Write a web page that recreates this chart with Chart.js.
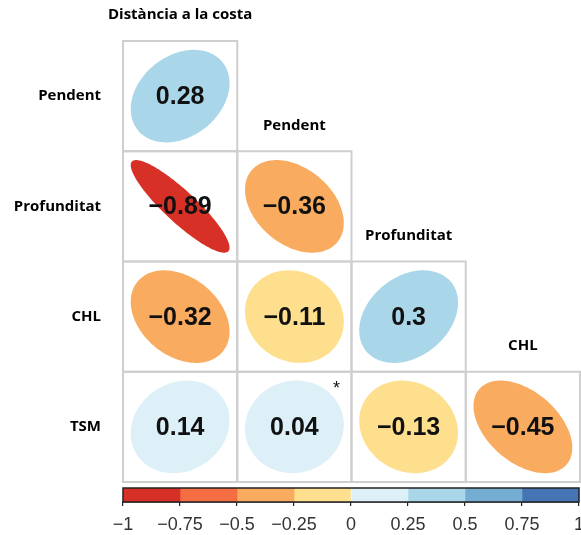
<!DOCTYPE html>
<html>
<head>
<meta charset="utf-8">
<script src="https://cdn.jsdelivr.net/npm/chart.js@4/dist/chart.umd.min.js"></script>
<style>
  html, body { margin: 0; padding: 0; background: #fff; overflow: hidden; width: 581px; height: 535px; }
  #matrixBox { position: absolute; left: 0; top: 0; }
  #barBox { position: absolute; left: 0; top: 482px; }
</style>
</head>
<body>
<div id="matrixBox"><canvas id="matrix" width="581" height="490"></canvas></div>
<div id="barBox"><canvas id="colorbar" width="620" height="53"></canvas></div>
<script>
// Variables compared in the lower-triangular correlation matrix
const columns = ['Distància a la costa', 'Pendent', 'Profunditat', 'CHL'];
const rows = ['Pendent', 'Profunditat', 'CHL', 'TSM'];

// Correlation coefficients, one array per row (columns left to right)
const corrPendent = [0.28];
const corrProfunditat = [-0.89, -0.36];
const corrCHL = [-0.32, -0.11, 0.3];
const corrTSM = [0.14, 0.04, -0.13, -0.45];

// Pairs flagged with an asterisk
const flagged = [{ row: 'TSM', col: 'Pendent' }];

// Colour scale (diverging, 8 classes) and its tick labels
const colorBreaks = [-1, -0.75, -0.5, -0.25, 0, 0.25, 0.5, 0.75, 1];
const palette = ['#D73027', '#F46D43', '#F9AC5F', '#FDDF8E', '#DDF0F7', '#A9D6E8', '#74ADD1', '#4575B4'];
const colorTicks = [-1, -0.75, -0.5, -0.25, 0, 0.25, 0.5, 0.75, 1];

const corrRows = [corrPendent, corrProfunditat, corrCHL, corrTSM];

function fmt(v) {
  return String(v).replace('-', '\u2212');
}
function colorFor(v) {
  for (let i = 0; i < palette.length; i++) {
    if (v <= colorBreaks[i + 1]) return palette[i];
  }
  return palette[palette.length - 1];
}

// One scatter point per matrix cell: x = column index, y = row index
const cells = [];
corrRows.forEach((vals, r) => {
  vals.forEach((v, c) => cells.push({ x: c, y: r, v: v }));
});

const labelFont = "bold 15px 'Open Sans', 'DejaVu Sans', sans-serif";
const numberFont = "bold 25px 'Liberation Sans', Arial, sans-serif";

// Draws cell frames, correlation ellipses, values and column headers
const corrPlot = {
  id: 'corrPlot',
  afterDatasetsDraw(chart) {
    const ctx = chart.ctx;
    const xs = chart.scales.x, ys = chart.scales.y;
    const cw = Math.abs(xs.getPixelForValue(1) - xs.getPixelForValue(0));
    const ch = Math.abs(ys.getPixelForValue(1) - ys.getPixelForValue(0));
    const pts = chart.getDatasetMeta(0).data;
    ctx.save();

    // cell frames
    ctx.strokeStyle = '#CFCFCF';
    ctx.lineWidth = 2;
    cells.forEach((d, i) => {
      const p = pts[i];
      ctx.strokeRect(p.x - cw / 2, p.y - ch / 2, cw, ch);
    });

    // ellipses
    cells.forEach((d, i) => {
      const p = pts[i];
      const a = Math.acos(d.v);
      const rx = 0.5 * 0.865 * cw, ry = 0.5 * 0.84 * ch;
      ctx.beginPath();
      const n = 120;
      for (let k = 0; k <= n; k++) {
        const t = (k / n) * Math.PI * 2;
        const px = p.x + Math.cos(t + a / 2) * rx;
        const py = p.y - Math.cos(t - a / 2) * ry;
        if (k === 0) ctx.moveTo(px, py); else ctx.lineTo(px, py);
      }
      ctx.closePath();
      ctx.fillStyle = colorFor(d.v);
      ctx.fill();
    });

    // values
    ctx.fillStyle = '#111';
    ctx.font = numberFont;
    ctx.textAlign = 'center';
    ctx.textBaseline = 'middle';
    cells.forEach((d, i) => {
      const p = pts[i];
      ctx.fillText(fmt(d.v), p.x, p.y + 1);
    });

    // asterisks
    ctx.font = "18px 'Liberation Sans', Arial, sans-serif";
    flagged.forEach(f => {
      const c = columns.indexOf(f.col), r = rows.indexOf(f.row);
      const x = xs.getPixelForValue(c) + cw / 2 - 15;
      const y = ys.getPixelForValue(r) - ch / 2 + 17;
      ctx.fillText('*', x, y);
    });

    // column headers above the diagonal cells
    ctx.font = labelFont;
    ctx.fillStyle = '#000';
    ctx.textBaseline = 'middle';
    columns.forEach((name, c) => {
      const x = xs.getPixelForValue(c);
      const y = ys.getPixelForValue(c) - ch / 2 - 26;
      ctx.fillText(name, x, y);
    });
    ctx.restore();
  }
};

new Chart(document.getElementById('matrix'), {
  type: 'scatter',
  data: { datasets: [{ data: cells, pointRadius: 0, pointHoverRadius: 0 }] },
  options: {
    responsive: false,
    animation: false,
    devicePixelRatio: 1,
    events: [],
    layout: { padding: { top: 41, right: 1, bottom: 8, left: 0 } },
    plugins: { legend: { display: false }, tooltip: { enabled: false } },
    scales: {
      x: { type: 'linear', min: -0.5, max: 3.5, display: false },
      y: {
        type: 'linear', min: -0.5, max: 3.5, reverse: true,
        afterBuildTicks: s => { s.ticks = rows.map((_, i) => ({ value: i })); },
        afterFit: s => { s.width = 123; s.paddingTop = 0; s.paddingBottom = 0; },
        grid: { display: false, drawTicks: false },
        border: { display: false },
        ticks: {
          padding: 22,
          color: '#000',
          font: { family: "'Open Sans', 'DejaVu Sans', sans-serif", size: 15, weight: 'bold' },
          callback: v => rows[v]
        }
      }
    }
  },
  plugins: [corrPlot]
});

// Frame around the colour key
const keyFrame = {
  id: 'keyFrame',
  afterDatasetsDraw(chart) {
    const a = chart.chartArea, ctx = chart.ctx;
    ctx.save();
    ctx.strokeStyle = '#222';
    ctx.lineWidth = 1.5;
    ctx.strokeRect(a.left, a.top, a.right - a.left, a.bottom - a.top);
    ctx.restore();
  }
};

new Chart(document.getElementById('colorbar'), {
  type: 'bar',
  data: {
    labels: [''],
    datasets: palette.map((c, i) => ({
      data: [[colorBreaks[i], colorBreaks[i + 1]]],
      backgroundColor: c,
      borderWidth: 0,
      barPercentage: 1,
      categoryPercentage: 1
    }))
  },
  options: {
    indexAxis: 'y',
    responsive: false,
    animation: false,
    devicePixelRatio: 1,
    events: [],
    layout: { padding: { left: 123, right: 41, top: 6, bottom: 0 } },
    plugins: { legend: { display: false }, tooltip: { enabled: false } },
    scales: {
      y: { display: false, stacked: true },
      x: {
        type: 'linear', min: -1, max: 1,
        afterBuildTicks: s => { s.ticks = colorTicks.map(v => ({ value: v })); },
        afterFit: s => { s.height = 33; },
        grid: { drawOnChartArea: false, drawTicks: true, tickLength: 4, color: '#222', lineWidth: 1.2 },
        border: { display: true, color: '#222', width: 1.5 },
        ticks: {
          autoSkip: false, maxRotation: 0, padding: 8,
          color: '#333',
          font: { family: "'Liberation Sans', Arial, sans-serif", size: 18 },
          callback: v => fmt(v)
        }
      }
    }
  },
  plugins: [keyFrame]
});
</script>
</body>
</html>
